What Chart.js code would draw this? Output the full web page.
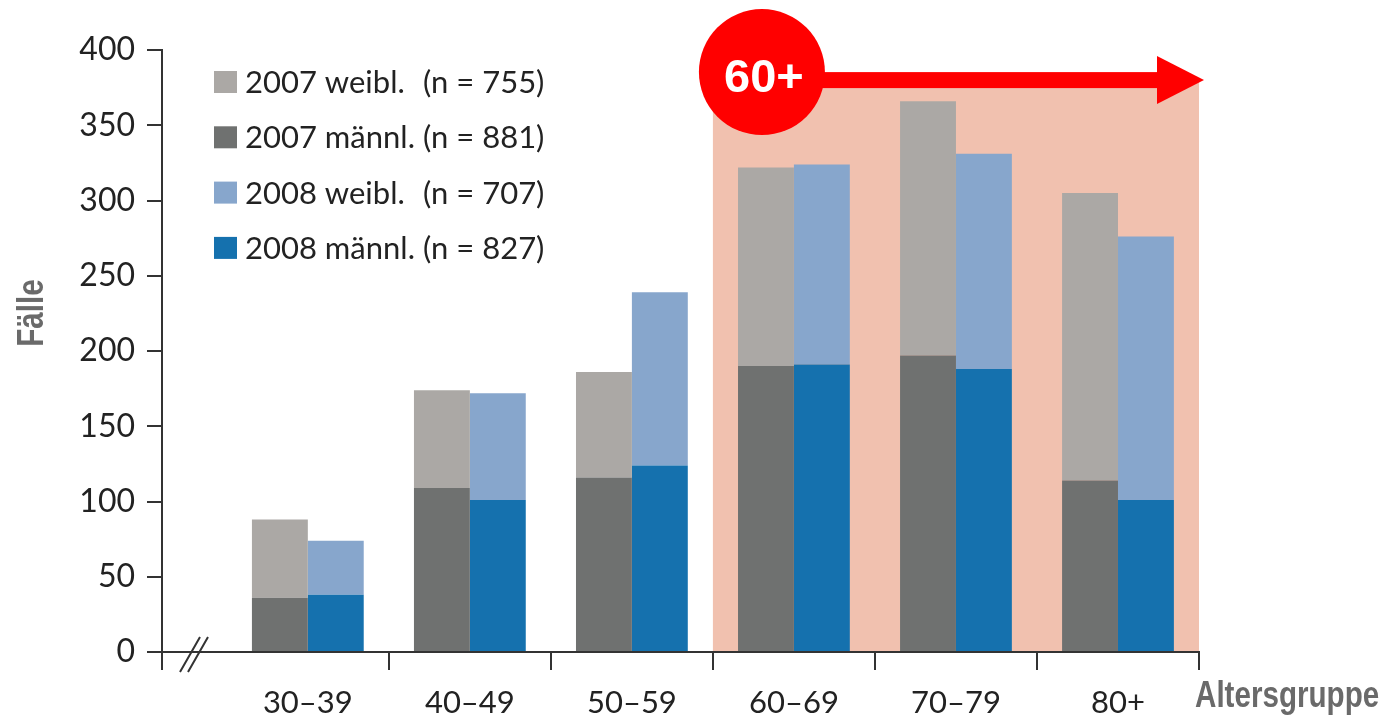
<!DOCTYPE html>
<html lang="de">
<head>
<meta charset="utf-8">
<title>Fälle nach Altersgruppe 2007/2008</title>
<script src="https://cdn.jsdelivr.net/npm/chart.js@4.4.1/dist/chart.umd.min.js"></script>
<style>
  html, body { margin: 0; padding: 0; background: #ffffff; }
  #wrap { width: 1388px; height: 715px; position: relative; }
</style>
</head>
<body>
<div id="wrap"><canvas id="chart" width="1388" height="715"></canvas></div>
<script>
// Altersgruppen (x-Achse)
const categories = ['30–39', '40–49', '50–59', '60–69', '70–79', '80+'];

// Fälle je Altersgruppe
const maennl2007 = [36, 109, 116, 190, 197, 114];
const weibl2007  = [52, 65, 70, 132, 169, 191];
const maennl2008 = [38, 101, 124, 191, 188, 101];
const weibl2008  = [36, 71, 115, 133, 143, 175];

// Legende
const seriesNames = ['2007 weibl.', '2007 männl.', '2008 weibl.', '2008 männl.'];
const seriesN = [755, 881, 707, 827];

// y-Achse
const yTicks = [0, 50, 100, 150, 200, 250, 300, 350, 400];

// hervorgehobener Bereich
const highlightLabel = '60+';
const highlightFrom = 3;   // Index der ersten Altersgruppe ab 60

const COL = {
  w2007: '#aba8a5',
  m2007: '#6f7170',
  w2008: '#87a6cc',
  m2008: '#1571ae',
  shade: '#f1c1af',
  red: '#ff0000',
  axis: '#333333',
  text: '#222222',
  title: '#6a6a6a'
};

const toPoints = arr => arr.map((v, i) => ({ x: i, y: v }));

const BODY_FONT = 'Lato, "Open Sans", "DejaVu Sans", sans-serif';
const TITLE_FONT = '"Liberation Sans", Arial, sans-serif';

// schmal gesetzter Achsentitel
function condensedText(ctx, text, px, py, angle, align) {
  ctx.save();
  ctx.translate(px, py);
  ctx.rotate(angle);
  ctx.scale(0.8, 1);
  ctx.textAlign = align;
  ctx.fillText(text, 0, 0);
  ctx.restore();
}

// Hintergrund-Markierung "60+"
const shadePlugin = {
  id: 'shade',
  beforeDraw(chart) {
    const { ctx, scales: { x, y } } = chart;
    const left = x.getPixelForValue(highlightFrom - 0.5);
    const right = x.getPixelForValue(categories.length - 0.5);
    const top = y.getPixelForValue(380);
    const bottom = y.getPixelForValue(0);
    ctx.save();
    ctx.fillStyle = COL.shade;
    ctx.fillRect(left, top, right - left, bottom - top);
    ctx.restore();
  }
};

// Achsen-Details, Legende, Titel und Pfeil
const decorPlugin = {
  id: 'decor',
  afterDraw(chart) {
    const { ctx, chartArea, scales: { x, y } } = chart;
    const base = y.getPixelForValue(0);
    ctx.save();

    // Teilstriche an den Gruppengrenzen
    ctx.strokeStyle = COL.axis;
    ctx.lineWidth = 2;
    ctx.beginPath();
    for (let i = 0; i < categories.length; i++) {
      const px = Math.round(x.getPixelForValue(i + 0.5));
      ctx.moveTo(px, base);
      ctx.lineTo(px, base + 18);
    }
    // y-Achse unterhalb der Nulllinie verlängern
    ctx.moveTo(chartArea.left, base);
    ctx.lineTo(chartArea.left, base + 18);
    ctx.stroke();

    // Achsenbruch
    ctx.lineWidth = 2;
    ctx.beginPath();
    ctx.moveTo(chartArea.left + 18, base + 20);
    ctx.lineTo(chartArea.left + 38, base - 15);
    ctx.moveTo(chartArea.left + 26, base + 20);
    ctx.lineTo(chartArea.left + 46, base - 15);
    ctx.stroke();

    // Legende: Name und Fallzahl in zwei bündigen Spalten
    const legendColors = [COL.w2007, COL.m2007, COL.w2008, COL.m2008];
    ctx.font = '31px ' + BODY_FONT;
    ctx.textBaseline = 'middle';
    ctx.textAlign = 'left';
    const nameWidth = Math.max(...seriesNames.map(n => ctx.measureText(n).width));
    const nx = 245 + nameWidth + 8;
    seriesNames.forEach((name, i) => {
      const cy = 82 + i * 55.3;
      ctx.fillStyle = legendColors[i];
      ctx.fillRect(214, cy - 11, 23, 22);
      ctx.fillStyle = COL.text;
      ctx.fillText(name, 245, cy + 1);
      ctx.fillText('(n = ' + seriesN[i] + ')', nx, cy + 1);
    });

    // Achsentitel
    ctx.fillStyle = COL.title;
    ctx.font = 'bold 37px ' + TITLE_FONT;
    ctx.textBaseline = 'alphabetic';
    condensedText(ctx, 'Altersgruppe', chartArea.right - 4, 707, 0, 'left');
    condensedText(ctx, 'Fälle', 43, 313, -Math.PI / 2, 'center');

    // Pfeil "60+"
    const shadeLeft = x.getPixelForValue(highlightFrom - 0.5);
    const shadeRight = x.getPixelForValue(categories.length - 0.5);
    const ay = y.getPixelForValue(380);
    const cx = shadeLeft + 49;
    const cyc = ay - 8;
    ctx.fillStyle = COL.red;
    ctx.fillRect(cx, ay - 8, shadeRight - 42 - cx, 16);
    ctx.beginPath();
    ctx.moveTo(shadeRight - 42, ay - 24);
    ctx.lineTo(shadeRight + 5, ay);
    ctx.lineTo(shadeRight - 42, ay + 24);
    ctx.closePath();
    ctx.fill();
    ctx.beginPath();
    ctx.arc(cx, cyc, 63, 0, Math.PI * 2);
    ctx.fill();
    ctx.fillStyle = '#ffffff';
    ctx.font = 'bold 47px "Liberation Sans", Arial, sans-serif';
    ctx.textAlign = 'center';
    ctx.textBaseline = 'middle';
    ctx.fillText(highlightLabel, cx + 2, cyc + 7);

    ctx.restore();
  }
};

new Chart(document.getElementById('chart'), {
  type: 'bar',
  data: {
    datasets: [
      { label: seriesNames[1], data: toPoints(maennl2007), backgroundColor: COL.m2007, stack: '2007' },
      { label: seriesNames[0], data: toPoints(weibl2007),  backgroundColor: COL.w2007, stack: '2007' },
      { label: seriesNames[3], data: toPoints(maennl2008), backgroundColor: COL.m2008, stack: '2008' },
      { label: seriesNames[2], data: toPoints(weibl2008),  backgroundColor: COL.w2008, stack: '2008' }
    ]
  },
  options: {
    responsive: false,
    animation: false,
    events: [],
    barPercentage: 1.0,
    categoryPercentage: 0.69,
    layout: { padding: { top: 50, right: 189, left: 0, bottom: 0 } },
    plugins: {
      legend: { display: false },
      tooltip: { enabled: false },
      title: { display: false }
    },
    scales: {
      x: {
        type: 'linear',
        min: -0.9,
        max: 5.5,
        offset: false,
        afterBuildTicks: scale => { scale.ticks = categories.map((_, i) => ({ value: i })); },
        afterFit: scale => { scale.height = 63; },
        ticks: {
          callback: v => categories[v] ?? '',
          font: { family: BODY_FONT, size: 31 },
          color: COL.text,
          padding: 24,
          maxRotation: 0,
          autoSkip: false
        },
        grid: { display: false },
        border: { display: true, color: COL.axis, width: 2 }
      },
      y: {
        stacked: true,
        min: 0,
        max: 400,
        afterBuildTicks: scale => { scale.ticks = yTicks.map(v => ({ value: v })); },
        afterFit: scale => { scale.width = 162; },
        ticks: {
          font: { family: BODY_FONT, size: 32 },
          color: COL.text,
          padding: 12
        },
        grid: { drawOnChartArea: false, drawTicks: true, tickLength: 15, color: COL.axis, lineWidth: 2 },
        border: { display: true, color: COL.axis, width: 2 }
      }
    }
  },
  plugins: [shadePlugin, decorPlugin]
});
</script>
</body>
</html>
